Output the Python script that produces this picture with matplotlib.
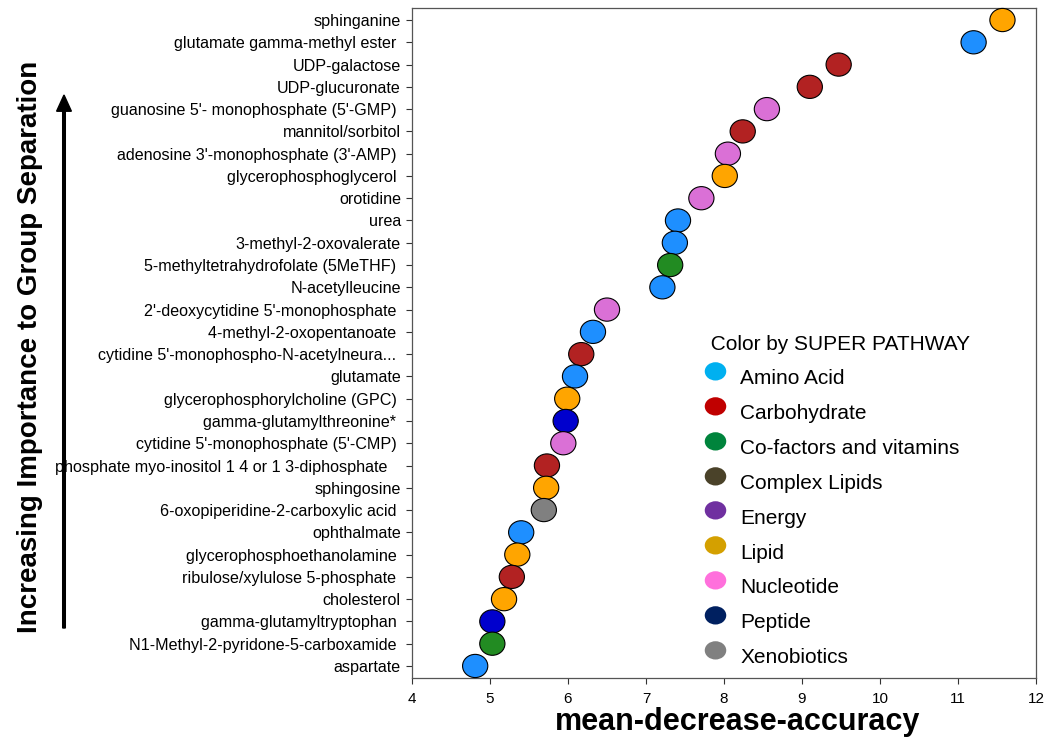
import matplotlib
matplotlib.use("Agg")
import matplotlib.pyplot as plt
from matplotlib.lines import Line2D
from matplotlib.transforms import Bbox, Affine2D
from matplotlib.path import Path
from matplotlib.patches import FancyArrow

plt.rcParams['font.family'] = ['Liberation Sans', 'DejaVu Sans']

metabolites = [
    "sphinganine", "glutamate gamma-methyl ester ", "UDP-galactose", "UDP-glucuronate",
    "guanosine 5'- monophosphate (5'-GMP) ", "mannitol/sorbitol", "adenosine 3'-monophosphate (3'-AMP) ",
    "glycerophosphoglycerol ", "orotidine", "urea", "3-methyl-2-oxovalerate",
    "5-methyltetrahydrofolate (5MeTHF) ", "N-acetylleucine", "2'-deoxycytidine 5'-monophosphate ",
    "4-methyl-2-oxopentanoate ", "cytidine 5'-monophospho-N-acetylneura... ", "glutamate",
    "glycerophosphorylcholine (GPC) ", "gamma-glutamylthreonine* ", "cytidine 5'-monophosphate (5'-CMP) ",
    "phosphate myo-inositol 1 4 or 1 3-diphosphate   ", "sphingosine", "6-oxopiperidine-2-carboxylic acid ",
    "ophthalmate", "glycerophosphoethanolamine ", "ribulose/xylulose 5-phosphate ", "cholesterol",
    "gamma-glutamyltryptophan ", "N1-Methyl-2-pyridone-5-carboxamide ", "aspartate",
]
mda = [11.57, 11.20, 9.47, 9.10, 8.55, 8.24, 8.05, 8.01, 7.71, 7.41, 7.37, 7.31, 7.21,
       6.50, 6.32, 6.17, 6.09, 5.99, 5.97, 5.94, 5.73, 5.72, 5.69, 5.40, 5.35, 5.28,
       5.18, 5.03, 5.03, 4.81]
pathway = ["Lipid", "Amino Acid", "Carbohydrate", "Carbohydrate", "Nucleotide", "Carbohydrate",
           "Nucleotide", "Lipid", "Nucleotide", "Amino Acid", "Amino Acid", "Co-factors and vitamins",
           "Amino Acid", "Nucleotide", "Amino Acid", "Carbohydrate", "Amino Acid", "Lipid",
           "Peptide", "Nucleotide", "Carbohydrate", "Lipid", "Xenobiotics", "Amino Acid", "Lipid",
           "Carbohydrate", "Lipid", "Peptide", "Co-factors and vitamins", "Amino Acid"]

point_colors = {"Amino Acid": "#1E8FFF", "Carbohydrate": "#B22222", "Co-factors and vitamins": "#228B22",
                "Lipid": "#FFA500", "Nucleotide": "#DA70D6", "Peptide": "#0000CD", "Xenobiotics": "#808080"}

legend_labels = ["Amino Acid", "Carbohydrate", "Co-factors and vitamins", "Complex Lipids", "Energy",
                 "Lipid", "Nucleotide", "Peptide", "Xenobiotics"]
legend_colors = ["#00B0F0", "#C00000", "#00843C", "#4A4229", "#7030A0", "#D4A000", "#FF70DC",
                 "#002060", "#808080"]

fig = plt.figure(figsize=(10.56, 7.38), dpi=100)
ax = fig.add_axes([412/1056, 1-678/738, (1036-412)/1056, (678-8)/738])

# slightly wide ellipse marker
ellipse = Path.unit_circle().transformed(Affine2D().scale(1.0, 0.92))

n = len(metabolites)
ypos = [n - 1 - i for i in range(n)]
ax.scatter(mda, ypos, s=330, marker=ellipse, c=[point_colors[p] for p in pathway],
           edgecolors='black', linewidths=0.8, zorder=3, clip_on=False)

ax.set_xlim(4, 12)
ax.set_ylim(-0.54, n - 1 + 0.54)
ax.set_xticks(range(4, 13))
ax.set_yticks(ypos)
ax.set_yticklabels(metabolites, fontsize=11.6)
ax.tick_params(axis='x', labelsize=11, direction='out', length=4, pad=6, color='#333333')
ax.tick_params(axis='y', direction='out', length=4, pad=4, color='#333333')
for sp in ax.spines.values():
    sp.set_color('#555555')
    sp.set_linewidth(0.9)

fig.text(738/1056, 1-722/738, "mean-decrease-accuracy", fontsize=22, fontweight='bold',
         ha='center', va='center')

# clip the long truncated label at figure left
clipbox = Bbox.from_extents(50, 0, 1056, 738)
for t in ax.get_yticklabels():
    t.set_clip_box(clipbox)
    t.set_clip_on(True)

fig.text(30/1056, 1-347/738, "Increasing Importance to Group Separation", rotation=90,
         fontsize=20, fontweight='bold', ha='center', va='center')
fig.patches.append(FancyArrow(
    64/1056, 1-628/738, 0, (628-95)/738, width=0.0025, head_width=0.014, head_length=0.022,
    length_includes_head=True, color='black', transform=fig.transFigure, figure=fig))

# legend marker: wide ellipse, raised slightly above the text centre
leg_marker = Path.unit_circle().transformed(Affine2D().scale(1.0, 0.85).translate(0, 0.57))
handles = [Line2D([0], [0], marker=leg_marker, linestyle='none', markersize=22,
                  markerfacecolor=c, markeredgecolor='none') for c in legend_colors]
leg = ax.legend(handles, legend_labels, title=" Color by SUPER PATHWAY", loc='upper left',
                bbox_to_anchor=(0.456, 0.525), frameon=False, fontsize=15,
                title_fontsize=15, labelspacing=0.76, handletextpad=0.69, handlelength=1.0,
                borderaxespad=0, alignment='left')

fig.savefig("out.png", dpi=100)
